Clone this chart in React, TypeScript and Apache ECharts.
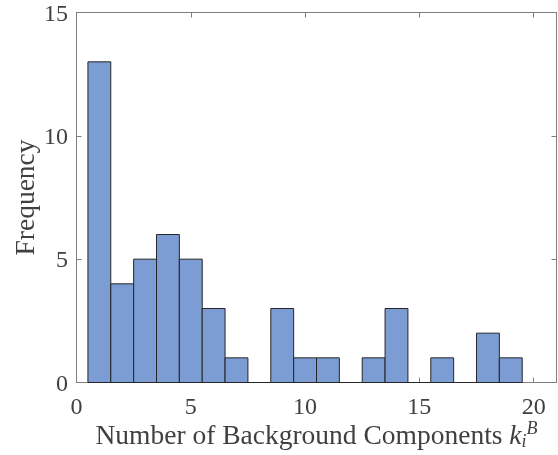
import React, { useEffect, useRef } from "react";
import * as echarts from "echarts";

const binStarts = [0.5, 1.5, 2.5, 3.5, 4.5, 5.5, 6.5, 7.5, 8.5, 9.5, 10.5, 11.5, 12.5, 13.5, 14.5, 15.5, 16.5, 17.5, 18.5];
const binWidth = 1;
const counts = [13, 4, 5, 6, 5, 3, 1, 0, 3, 1, 1, 0, 1, 3, 0, 1, 0, 2, 1];
const xTicks = [0, 5, 10, 15, 20];
const yTicks = [0, 5, 10, 15];
const xName = "Number of Background Components {k|k}{sb|i}{sp|B}";
const yName = "Frequency";

const FONT = "Liberation Serif";
const AXIS_COLOR = "#7f7f7f";
const TEXT_COLOR = "#404040";
const TICK_FS = 24;
const NAME_FS = 27.5;

export default function App() {
  const ref = useRef<HTMLDivElement>(null);
  useEffect(() => {
    if (!ref.current) return;
    const chart = echarts.init(ref.current, undefined, { renderer: "svg" });
    const data = binStarts.map((s, i) => [s, s + binWidth, counts[i]]);
    const axisLine = { show: true, onZero: false, lineStyle: { color: AXIS_COLOR, width: 1 } };
    const tick = { show: true, inside: true, length: 5, lineStyle: { color: AXIS_COLOR } };
    const grid = { left: 76.5, top: 12.5, right: 1.5, bottom: 72.5 };
    chart.setOption({
      animation: false,
      grid: { ...grid, containLabel: false },
      xAxis: [
        { type: "value", min: 0, max: 21, interval: 5, axisLine, splitLine: { show: false }, axisLabel: { show: false }, axisTick: { ...tick, customValues: xTicks } },
        { type: "value", position: "top", min: 0, max: 21, interval: 5, axisLine, splitLine: { show: false }, axisLabel: { show: false }, axisTick: { ...tick, customValues: xTicks } },
      ],
      yAxis: [
        { type: "value", min: 0, max: 15, interval: 5, axisLine, splitLine: { show: false }, axisLabel: { show: false }, axisTick: { ...tick, customValues: yTicks } },
        { type: "value", position: "right", min: 0, max: 15, interval: 5, axisLine, splitLine: { show: false }, axisLabel: { show: false }, axisTick: { ...tick, customValues: yTicks } },
      ],
      series: [
        {
          type: "custom",
          xAxisIndex: 0,
          yAxisIndex: 0,
          data,
          z: 3,
          renderItem: (params: any, api: any) => {
            const x0 = api.value(0);
            const x1 = api.value(1);
            const c = api.value(2);
            const p0 = api.coord([x0, 0]);
            const p1 = api.coord([x1, c]);
            if (c === 0) {
              return {
                type: "line",
                shape: { x1: p0[0], y1: p0[1], x2: p1[0], y2: p0[1] },
                style: { stroke: "#262626", lineWidth: 1 },
              };
            }
            return {
              type: "rect",
              shape: { x: p0[0], y: p1[1], width: p1[0] - p0[0], height: p0[1] - p1[1] },
              style: { fill: "#7b9dd3", stroke: "#262626", lineWidth: 1 },
            };
          },
        },
      ],
    });

    // Axis texts, placed through the axes' own scales
    const W = 558, H = 455;
    const plotBottom = H - grid.bottom;
    const plotTop = grid.top;
    const plotLeft = grid.left;
    const plotRight = W - grid.right;
    const graphics: any[] = [];
    xTicks.forEach((v) => {
      const px = chart.convertToPixel({ xAxisIndex: 0 }, v) as number;
      graphics.push({
        type: "text",
        x: px,
        y: plotBottom + 23,
        style: { text: String(v), fontFamily: FONT, fontSize: TICK_FS, fill: TEXT_COLOR, align: "center", verticalAlign: "middle" },
      });
    });
    yTicks.forEach((v) => {
      const py = chart.convertToPixel({ yAxisIndex: 0 }, v) as number;
      graphics.push({
        type: "text",
        x: plotLeft - 8.5,
        y: py,
        style: { text: String(v), fontFamily: FONT, fontSize: TICK_FS, fill: TEXT_COLOR, align: "right", verticalAlign: "middle" },
      });
    });
    graphics.push({
      type: "text",
      x: (plotLeft + plotRight) / 2,
      y: plotBottom + 52,
      style: {
        text: xName,
        fontFamily: FONT,
        fontSize: NAME_FS,
        fill: TEXT_COLOR,
        lineHeight: 31,
        align: "center",
        verticalAlign: "middle",
        rich: {
          k: { fontFamily: FONT, fontSize: NAME_FS, fontStyle: "italic", fill: TEXT_COLOR, lineHeight: 31 },
          sb: { fontFamily: FONT, fontSize: 18, fontStyle: "italic", fill: TEXT_COLOR, lineHeight: 18, verticalAlign: "bottom", width: 5 },
          sp: { fontFamily: FONT, fontSize: 18, fontStyle: "italic", fill: TEXT_COLOR, lineHeight: 18, verticalAlign: "top" },
        },
      },
    });
    graphics.push({
      type: "text",
      x: 24,
      y: (plotTop + plotBottom) / 2,
      rotation: Math.PI / 2,
      style: { text: yName, fontFamily: FONT, fontSize: NAME_FS, fill: TEXT_COLOR, align: "center", verticalAlign: "middle" },
    });
    chart.setOption({ graphic: graphics });

    return () => chart.dispose();
  }, []);
  return (
    <div
      ref={ref}
      style={{ position: "fixed", left: 0, top: 0, width: 558, height: 455, fontFamily: "Liberation Serif" }}
    />
  );
}
